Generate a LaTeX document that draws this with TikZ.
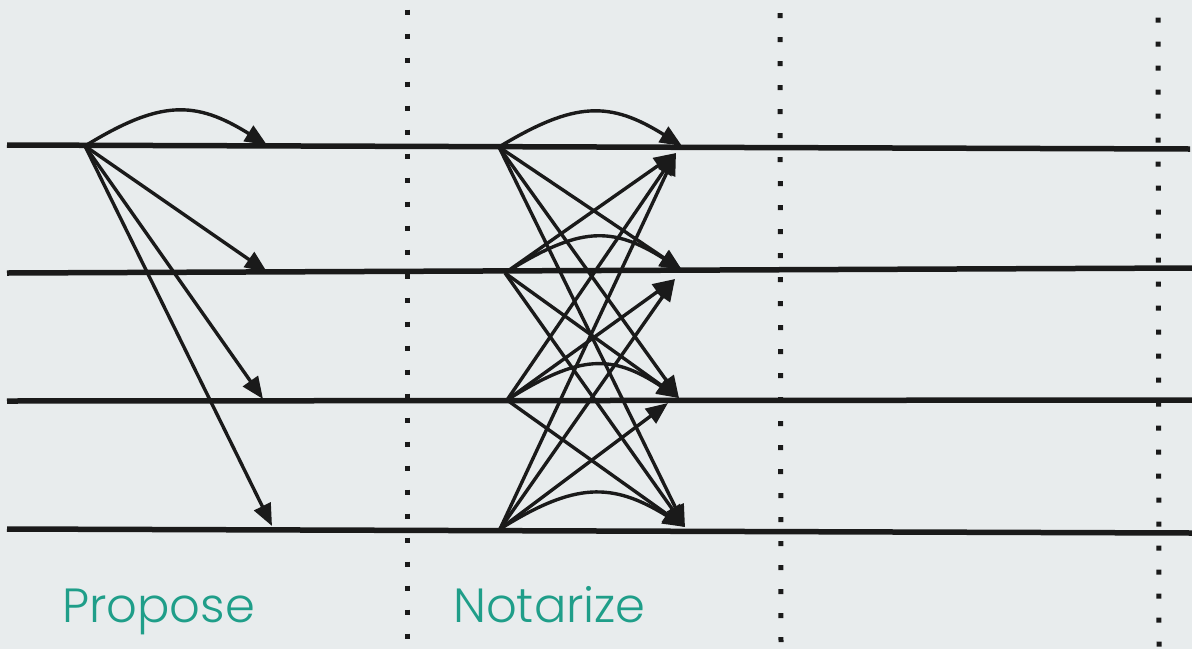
\documentclass[tikz,border=0pt]{standalone}
\usepackage{fontspec}
\setmainfont{Poppins Light}
\usetikzlibrary{arrows.meta}
\definecolor{bgc}{HTML}{E8ECED}
\definecolor{ink}{HTML}{1A1A1A}
\definecolor{teal}{HTML}{1F9E89}
\tikzset{
  lane/.style={draw=ink, line width=5.5pt},
  divider/.style={draw=ink, line width=5pt, dash pattern=on 5pt off 19pt},
  msg/.style={draw=ink, line width=3.4pt, -{Triangle[length=22pt,width=18pt]}},
  phase/.style={text=teal, font=\fontsize{48}{50}\selectfont, anchor=base west, inner sep=0pt},
}
\begin{document}
\begin{tikzpicture}[x=1pt,y=-1pt]
\fill[bgc] (0,0) rectangle (1192,649);
\useasboundingbox (0,0) rectangle (1192,649);
% lanes
\coordinate (l1a) at (7,145);  \coordinate (l1b) at (1190,149);
\coordinate (l2a) at (7,273);  \coordinate (l2b) at (1192,268);
\coordinate (l3a) at (7,401);  \coordinate (l3b) at (1192,400);
\coordinate (l4a) at (7,529);  \coordinate (l4b) at (1192,533);
\draw[lane] (l1a) -- (l1b);
\draw[lane] (l2a) -- (l2b);
\draw[lane] (l3a) -- (l3b);
\draw[lane] (l4a) -- (l4b);
% dividers
\coordinate (d1a) at (407,9.5);  \coordinate (d1b) at (407,645);
\coordinate (d2a) at (780,13);   \coordinate (d2b) at (781,645);
\coordinate (d3a) at (1158,17.5); \coordinate (d3b) at (1159,649);
\draw[divider] (d1a) -- (d1b);
\draw[divider] (d2a) -- (d2b);
\draw[divider] (d3a) -- (d3b);
% propose
\coordinate (p) at (85,146);
\coordinate (pt1) at (267,145);
\coordinate (pt2) at (267,272);
\coordinate (pt3) at (263,399);
\coordinate (pt4) at (272,526);
\draw[msg] (p) .. controls (160,100) and (195,100) .. (pt1);
\draw[msg] (p) -- (pt2);
\draw[msg] (p) -- (pt3);
\draw[msg] (p) -- (pt4);
% notarize sources
\coordinate (n1) at (499,147);
\coordinate (n2) at (505,273);
\coordinate (n3) at (507,400);
\coordinate (n4) at (500,529);
% targets (from above / own lane, and from below)
\coordinate (a1) at (682,146);
\coordinate (b1) at (676,153);
\coordinate (a2) at (682,270);
\coordinate (b2) at (675,279);
\coordinate (a3) at (679,398);
\coordinate (b3) at (668,403);
\coordinate (a4) at (685,527);
% own-lane curves
\draw[msg] (n1) .. controls (575,101) and (610,101) .. (a1);
\draw[msg] (n2) .. controls (580,226) and (612,226) .. (a2);
\draw[msg] (n3) .. controls (580,354) and (612,354) .. (a3);
\draw[msg] (n4) .. controls (575,482) and (612,482) .. (a4);
% downward
\draw[msg] (n1) -- (a2);
\draw[msg] (n1) -- (a3);
\draw[msg] (n1) -- (a4);
\draw[msg] (n2) -- (a3);
\draw[msg] (n2) -- (a4);
\draw[msg] (n3) -- (a4);
% upward
\draw[msg] (n2) -- (b1);
\draw[msg] (n3) -- (b1);
\draw[msg] (n4) -- (b1);
\draw[msg] (n3) -- (b2);
\draw[msg] (n4) -- (b2);
\draw[msg] (n4) -- (b3);
% labels
\node[phase] (propose) at (62,622) {Propose};
\node[phase] (notarize) at (453,622) {Notarize};
\end{tikzpicture}
\end{document}
